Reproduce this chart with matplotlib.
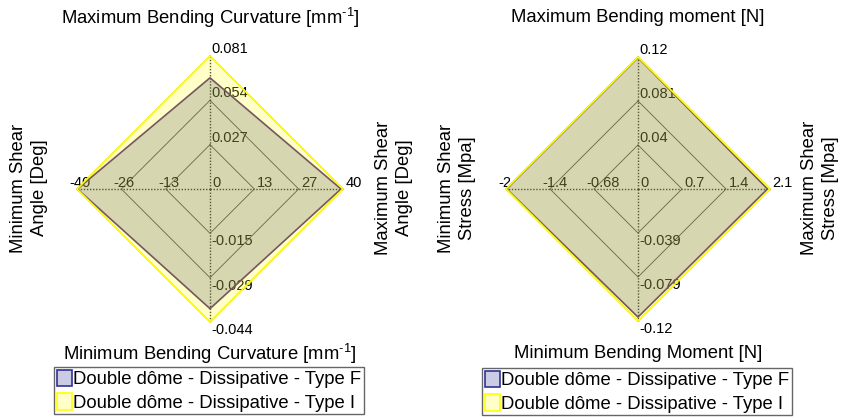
import matplotlib
matplotlib.use("Agg")
import matplotlib.pyplot as plt
from matplotlib.patches import Polygon, Patch

plt.rcParams["font.family"] = ["Liberation Sans", "DejaVu Sans"]
plt.rcParams["mathtext.fontset"] = "custom"
plt.rcParams["mathtext.rm"] = "Liberation Sans"
plt.rcParams["mathtext.it"] = "Liberation Sans"
plt.rcParams["mathtext.default"] = "regular"

W, H = 841, 418

# ---- spoke order: top, right, bottom, left ----
series_names = ["Double dôme - Dissipative - Type F", "Double dôme - Dissipative - Type I"]

# Curvature / shear-angle chart
curv_axis_titles = ["Maximum Bending Curvature [mm$^{\\text{-}1}$]", "Maximum Shear\nAngle [Deg]",
                    "Minimum Bending Curvature [mm$^{\\text{-}1}$]", "Minimum Shear\nAngle [Deg]"]
curv_limits = [0.081, 40.0, -0.0439, -39.6]
curv_type_f = [0.0677, 39.4, -0.0395, -39.5]
curv_type_i = [0.081, 40.0, -0.0439, -39.6]
curv_ticks = [["0.027", "0.054", "0.081"],
              ["13", "27", "40"],
              ["-0.015", "-0.029", "-0.044"],
              ["-13", "-26", "-40"]]

# Moment / shear-stress chart
moment_axis_titles = ["Maximum Bending moment [N]", "Maximum Shear\nStress [Mpa]",
                      "Minimum Bending Moment [N]", "Minimum Shear\nStress [Mpa]"]
moment_limits = [0.121, 2.1, -0.118, -2.04]
moment_type_f = [0.1205, 2.06, -0.1145, -2.03]
moment_type_i = [0.121, 2.1, -0.118, -2.04]
moment_ticks = [["0.04", "0.081", "0.12"],
                ["0.7", "1.4", "2.1"],
                ["-0.039", "-0.079", "-0.12"],
                ["-0.68", "-1.4", "-2"]]

center_label = "0"
ring_fracs = [1 / 3, 2 / 3, 1.0]

# ---- styling ----
F_FACE = (50 / 255, 50 / 255, 150 / 255, 0.25)
F_EDGE_LEG = (50 / 255, 50 / 255, 150 / 255)
F_EDGE = (0.32, 0.15, 0.48)
I_FACE = (1.0, 1.0, 0.0, 0.22)
I_EDGE = (1.0, 1.0, 0.0)

directions = [(0, 1), (1, 0), (0, -1), (-1, 0)]
# (ha, va, pixel offset) for ring labels on each spoke
label_style = [("left", "baseline", (1.5, 3)),
               ("left", "baseline", (2.5, 2)),
               ("left", "top", (1.5, -1)),
               ("left", "baseline", (-7.5, 2))]

fig = plt.figure(figsize=(W / 100, H / 100), dpi=100)


def make_axes(cx, cy, R, L=1.35):
    left = (cx - L * R) / W
    bottom = 1 - (cy + L * R) / H
    ax = fig.add_axes([left, bottom, 2 * L * R / W, 2 * L * R / H])
    ax.set_xlim(-L, L)
    ax.set_ylim(-L, L)
    ax.axis("off")
    return ax


def spider(ax, limits, type_f, type_i, ticks):
    # grid rings
    for f in ring_fracs:
        xs = [f * d[0] for d in directions] + [f * directions[0][0]]
        ys = [f * d[1] for d in directions] + [f * directions[0][1]]
        ax.plot(xs, ys, color=(0.25, 0.25, 0.25), lw=0.6, zorder=1)
    # spokes
    for d in directions:
        ax.plot([0, d[0]], [0, d[1]], color=(0.15, 0.15, 0.15), lw=1.0,
                ls=(0, (1, 1.2)), zorder=1.5)
    # ring labels
    for k, d in enumerate(directions):
        ha, va, off = label_style[k]
        for f, lab in zip(ring_fracs, ticks[k]):
            ax.annotate(lab, (f * d[0], f * d[1]), xytext=off, textcoords="offset pixels",
                        ha=ha, va=va, fontsize=10.5, color="black", zorder=2,
                        annotation_clip=False)
    ax.annotate(center_label, (0, 0), xytext=(2.5, 2), textcoords="offset pixels",
                ha="left", va="baseline", fontsize=10.5, color="black", zorder=2,
                annotation_clip=False)
    # series polygons
    for vals, face, edge, z in ((type_f, F_FACE, F_EDGE, 3), (type_i, I_FACE, I_EDGE, 4)):
        pts = [(v / lim * d[0], v / lim * d[1]) for v, lim, d in zip(vals, limits, directions)]
        ax.add_patch(Polygon(pts, closed=True, facecolor=face, edgecolor="none", zorder=z))
        ax.add_patch(Polygon(pts, closed=True, facecolor="none", edgecolor=edge,
                             lw=1.2, zorder=z + 0.5))


def titles(cx, titles_list, top_y, bottom_y, left_x, right_x, cy):
    fig.text(cx / W, 1 - top_y / H, titles_list[0], ha="center", va="baseline", fontsize=13.3)
    fig.text(cx / W, 1 - bottom_y / H, titles_list[2], ha="center", va="baseline", fontsize=13.3)
    fig.text(right_x / W, 1 - cy / H, titles_list[1], ha="center", va="center",
             rotation=90, fontsize=13.3, multialignment="center", linespacing=1.25)
    fig.text(left_x / W, 1 - cy / H, titles_list[3], ha="center", va="center",
             rotation=90, fontsize=13.3, multialignment="center", linespacing=1.25)


def legend(x, y):
    handles = [Patch(facecolor=F_FACE, edgecolor=F_EDGE_LEG, lw=1.2),
               Patch(facecolor=I_FACE, edgecolor=I_EDGE, lw=1.2)]
    leg = fig.legend(handles, series_names, loc="upper left",
                     bbox_to_anchor=(x / W, 1 - y / H), fontsize=13.3,
                     handlelength=0.8, handleheight=1.0, handletextpad=0.1,
                     borderpad=0.15, labelspacing=0.25, borderaxespad=0,
                     fancybox=False, framealpha=1, edgecolor=(0.4, 0.4, 0.4))
    leg.get_frame().set_linewidth(1.0)


ax1 = make_axes(210, 189, 133)
spider(ax1, curv_limits, curv_type_f, curv_type_i, curv_ticks)
titles(210, curv_axis_titles, 24, 360, 29, 394, 188)
legend(54, 367)

ax2 = make_axes(638, 189, 132)
spider(ax2, moment_limits, moment_type_f, moment_type_i, moment_ticks)
titles(638, moment_axis_titles, 22, 358, 457, 820, 188)
legend(482, 368)

fig.savefig("out.png", dpi=100)
